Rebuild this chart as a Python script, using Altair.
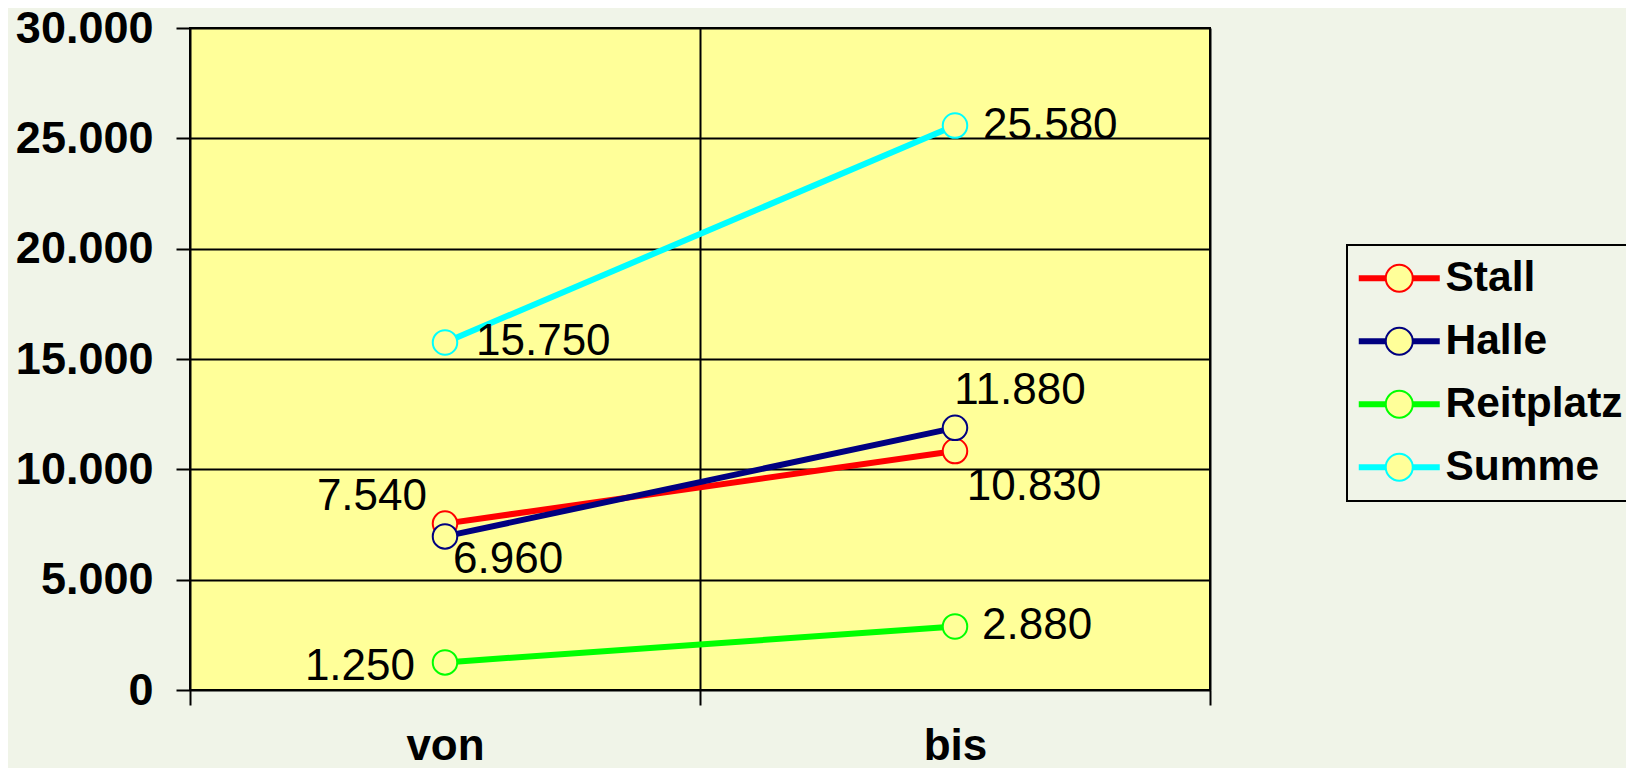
import altair as alt
import pandas as pd

categories = ["von", "bis"]
series_names = ["Stall", "Halle", "Reitplatz", "Summe"]
stall = [7540, 10830]
halle = [6960, 11880]
reitplatz = [1250, 2880]
summe = [15750, 25580]
series_colors = ["#FF0000", "#000080", "#00FF00", "#00FFFF"]
y_ticks = [0, 5000, 10000, 15000, 20000, 25000, 30000]

values = {"Stall": stall, "Halle": halle, "Reitplatz": reitplatz, "Summe": summe}
rows = [
    {"series": s, "cat": c, "value": v}
    for s in series_names
    for c, v in zip(categories, values[s])
]
df = pd.DataFrame(rows)

FONT = "Liberation Sans"
PLOT_FILL = "#FFFF99"
BG = "#F0F4E8"

x_enc = alt.X(
    "cat:N",
    sort=categories,
    scale=alt.Scale(type="band", domain=categories, paddingInner=0, paddingOuter=0),
    axis=alt.Axis(
        title=None,
        tickBand="extent",
        labelAngle=0,
        grid=True,
        domain=False,
        tickSize=15,
        labelPadding=54,
        labelBaseline="alphabetic",
        labelFontSize=44,
    ),
)
y_enc = alt.Y(
    "value:Q",
    scale=alt.Scale(domain=[0, 30000], nice=False),
    axis=alt.Axis(
        title=None,
        values=y_ticks,
        grid=True,
        domain=False,
        tickSize=14,
        labelPadding=23,
        labelFontSize=45,
        labelExpr="replace(format(datum.value, ','), ',', '.')",
    ),
)

color_scale = alt.Scale(domain=series_names, range=series_colors)

base = alt.Chart(df)

legend_common = dict(
    title=None,
    orient="none",
    legendX=1157,
    legendY=217,
    symbolSize=729,
    labelFont=FONT,
    labelFontSize=42.5,
    labelFontWeight="bold",
    labelLimit=0,
    labelOffset=25,
    padding=12,
    symbolOffset=19,
    rowPadding=20,
)

lines = base.mark_line(strokeWidth=6).encode(
    x=x_enc,
    y=y_enc,
    color=alt.Color(
        "series:N",
        scale=color_scale,
        sort=series_names,
        legend=alt.Legend(
            symbolType="M-3,0H3",
            symbolStrokeWidth=6,
            symbolFillColor="transparent",
            labelColor="black",
            strokeColor="black",
            zindex=0,
            **legend_common,
        ),
    ),
    order=alt.Order("series:N"),
)

points = base.mark_point(
    shape="circle", filled=True, fill=PLOT_FILL, size=600, strokeWidth=2, opacity=1
).encode(
    x=x_enc,
    y=y_enc,
    stroke=alt.Stroke(
        "series:N",
        scale=color_scale,
        sort=series_names,
        legend=alt.Legend(
            symbolType="circle",
            symbolStrokeWidth=2,
            symbolFillColor=PLOT_FILL,
            labelOpacity=0,
            strokeColor="transparent",
            zindex=1,
            **legend_common,
        ),
    ),
)


def label_layer(series, cat, align, dx, dy):
    return (
        base.transform_filter(
            (alt.datum.series == series) & (alt.datum.cat == cat)
        )
        .transform_calculate(label="replace(format(datum.value, ','), ',', '.')")
        .mark_text(
            font=FONT,
            fontSize=44,
            color="black",
            align=align,
            baseline="middle",
            dx=dx,
            dy=dy,
        )
        .encode(x=x_enc, y=y_enc, text="label:N")
    )


labels = [
    label_layer("Summe", "bis", "left", 28, 0),
    label_layer("Summe", "von", "left", 31, 0),
    label_layer("Halle", "bis", "center", 65, -37),
    label_layer("Stall", "bis", "center", 79, 36),
    label_layer("Reitplatz", "bis", "left", 27, 0),
    label_layer("Stall", "von", "right", -18, -27),
    label_layer("Halle", "von", "left", 8, 24),
    label_layer("Reitplatz", "von", "right", -30, 5),
]

chart = (
    alt.layer(lines, points, *labels)
    .resolve_scale(color="independent", stroke="independent")
    .properties(
        width=1020,
        height=662,
        autosize=alt.AutoSizeParams(type="none"),
        padding={"left": 182, "top": 20, "right": 416, "bottom": 78},
        background=BG,
    )
    .configure_view(fill=PLOT_FILL, stroke="black", strokeWidth=2)
    .configure_axis(
        labelFont=FONT,
        labelFontWeight="bold",
        labelColor="black",
        gridColor="black",
        gridWidth=2,
        gridOpacity=1,
        tickColor="black",
        tickWidth=2,
        tickOpacity=1,
    )
    .configure_legend(strokeWidth=2)
)

chart.save("out.html", embed_options={"renderer": "svg", "actions": False})
